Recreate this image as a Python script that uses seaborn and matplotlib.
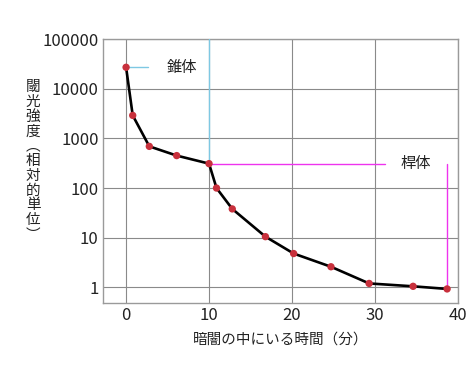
import matplotlib
matplotlib.use("Agg")
import matplotlib.pyplot as plt
import seaborn as sns
import pandas as pd

# dark adaptation curve
minutes = [0.0, 0.8, 2.8, 6.1, 10.0, 10.9, 12.8, 16.8, 20.2, 24.7, 29.3, 34.6, 38.7]
threshold = [27000, 2900, 690, 450, 310, 100, 38, 10.5, 4.8, 2.6, 1.2, 1.05, 0.93]

x_ticks = [0, 10, 20, 30, 40]
y_ticks = [1, 10, 100, 1000, 10000, 100000]
y_tick_labels = ["1", "10", "100", "1000", "10000", "100000"]

cone_label = "錐体"
rod_label = "桿体"
x_label = "暗闇の中にいる時間（分）"
y_label = "閾光強度︵相対的単位︶"

cone_line_end = 2.7
rod_line_end = 31.2

sns.set_style("white")
plt.rcParams["font.family"] = ["Noto Sans CJK JP", "DejaVu Sans"]

df = pd.DataFrame({"minutes": minutes, "threshold": threshold})

fig = plt.figure(figsize=(4.74, 3.79), dpi=100)
ax = fig.add_axes([0.217, 0.200, 0.749, 0.697])

ax.set_yscale("log")
ax.set_xlim(-2.8, 40)
ax.set_ylim(0.48, 100000)

ax.grid(True, which="major", color="#8a8a8a", linewidth=0.8)
ax.set_xticks(x_ticks)
ax.set_yticks(y_ticks)
ax.set_yticklabels(y_tick_labels)
ax.minorticks_off()
ax.tick_params(axis="both", length=0, labelsize=12, colors="#222222", pad=3)

for s in ax.spines.values():
    s.set_color("#9a9a9a")
    s.set_linewidth(1.0)

cyan = "#7ec8e3"
magenta = "#ee33ee"
# cone branch guides
ax.plot([minutes[0], cone_line_end], [threshold[0], threshold[0]], color=cyan, lw=1.0, zorder=3)
ax.plot([minutes[4], minutes[4]], [threshold[4], 100000], color=cyan, lw=1.0, zorder=3)
ax.text(6.7, threshold[0], cone_label, fontsize=11, va="center", ha="center", color="#222222")
# rod branch guides
ax.plot([minutes[4], rod_line_end], [threshold[4], threshold[4]], color=magenta, lw=1.0, zorder=3)
ax.plot([minutes[-1], minutes[-1]], [threshold[-1], threshold[4]], color=magenta, lw=1.0, zorder=3)
ax.text(34.9, threshold[4], rod_label, fontsize=11, va="center", ha="center", color="#222222")

sns.lineplot(data=df, x="minutes", y="threshold", ax=ax, color="black", linewidth=1.9, zorder=4)
sns.scatterplot(data=df, x="minutes", y="threshold", ax=ax, color="#c8303c", s=28,
                edgecolor="none", zorder=5)

ax.set_xlabel(x_label, fontsize=10.5, color="#222222", labelpad=6)
ax.set_ylabel("")

# vertical (tategaki) y label, one upright character per row
for i, ch in enumerate(y_label):
    py = 87 + 14.8 * i
    fig.text(33 / 474, 1 - py / 379, ch, fontsize=10.5, color="#222222",
             ha="center", va="center")

plt.savefig("out.png", dpi=100)
plt.close()
